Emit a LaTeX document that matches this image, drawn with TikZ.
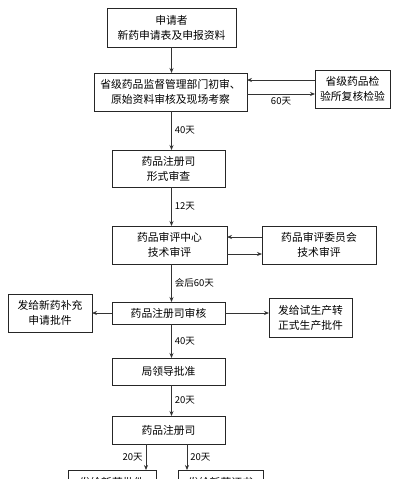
\documentclass[tikz,border=0pt]{standalone}
\usepackage{fontspec}
\setmainfont{Noto Sans CJK SC}
\usetikzlibrary{arrows.meta}

\begin{document}
\begin{tikzpicture}[x=1pt,y=-1pt,
  box/.style={draw=black!85,line width=0.8pt,inner sep=0pt,outer sep=0pt,align=center,
    font=\fontsize{10.8}{15}\selectfont},
  arr/.style={draw=black!80,line width=0.8pt,-{Stealth[length=5pt,width=4pt]}},
  lbl/.style={font=\fontsize{9.5}{11}\selectfont,inner sep=3pt}]
\clip (0,0) rectangle (400,479);

%main column
\node[box,minimum width=129pt,minimum height=39pt] (sq) at (171.5,27.5) {申请者\\新药申请表及申报资料};
\node[box,minimum width=153pt,minimum height=38pt] (sj) at (170.5,92) {省级药品监督管理部门初审、\\原始资料审核及现场考察};
\node[box,minimum width=113pt,minimum height=37pt] (zc1) at (168.5,168.5) {药品注册司\\形式审查};
\node[box,minimum width=115pt,minimum height=38pt] (pz) at (169.5,245) {药品审评中心\\技术审评};
\node[box,minimum width=113pt,minimum height=22pt] (zc2) at (168.5,313) {药品注册司审核};
\node[box,minimum width=113pt,minimum height=27pt] (ld) at (168.5,371.5) {局领导批准};
\node[box,minimum width=113pt,minimum height=28pt] (zc3) at (168.5,430) {药品注册司};

%side boxes
\node[box,minimum width=75pt,minimum height=38pt] (jy) at (352.5,89) {省级药品检\\验所复核检验};
\node[box,minimum width=114pt,minimum height=38pt] (wy) at (319,245) {药品审评委员会\\技术审评};
\node[box,minimum width=84pt,minimum height=38pt] (bc) at (50,313) {发给新药补充\\申请批件};
\node[box,minimum width=83pt,minimum height=39pt] (sc) at (310.5,317.5) {发给试生产转\\正式生产批件};

%bottom boxes
\node[box,minimum width=88pt,minimum height=24pt,anchor=north] (pj) at (112,470) {发给新药批件};
\node[box,minimum width=85pt,minimum height=24pt,anchor=north] (zs) at (220.5,470) {发给新药证书};

%arrows
\draw[arr] (sq.south -| sq) -- (sj.north -| sq);
\draw[arr] (sj.south -| sq) -- node[lbl,right] {40天} (zc1.north -| sq);
\draw[arr] (zc1.south -| sq) -- node[lbl,right] {12天} (pz.north -| sq);
\draw[arr] (pz.south -| sq) -- node[lbl,right] {会后60天} (zc2.north -| sq);
\draw[arr] (zc2.south -| sq) -- node[lbl,right] {40天} (ld.north -| sq);
\draw[arr] (ld.south -| sq) -- node[lbl,right] {20天} (zc3.north -| sq);

\draw[arr] ([yshift=12pt]sj.east -| jy.west) -- ([yshift=12pt]sj.east);
\draw[arr] ([yshift=-2pt]sj.east) -- node[lbl,below] {60天} ([yshift=-2pt]sj.east -| jy.west);
\draw[arr] ([yshift=8pt]pz.east -| wy.west) -- ([yshift=8pt]pz.east);
\draw[arr] ([yshift=-9pt]pz.east) -- ([yshift=-9pt]pz.east -| wy.west);
\draw[arr] (zc2.west) -- (zc2.west -| bc.east);
\draw[arr] (zc2.east) -- (zc2.east -| sc.west);

\draw[arr] ([xshift=-22.5pt]zc3.south) -- node[lbl,left] {20天} ([xshift=-22.5pt]zc3.south |- pj.north);
\draw[arr] ([xshift=18.5pt]zc3.south) -- node[lbl,right] {20天} ([xshift=18.5pt]zc3.south |- zs.north);
\end{tikzpicture}
\end{document}
